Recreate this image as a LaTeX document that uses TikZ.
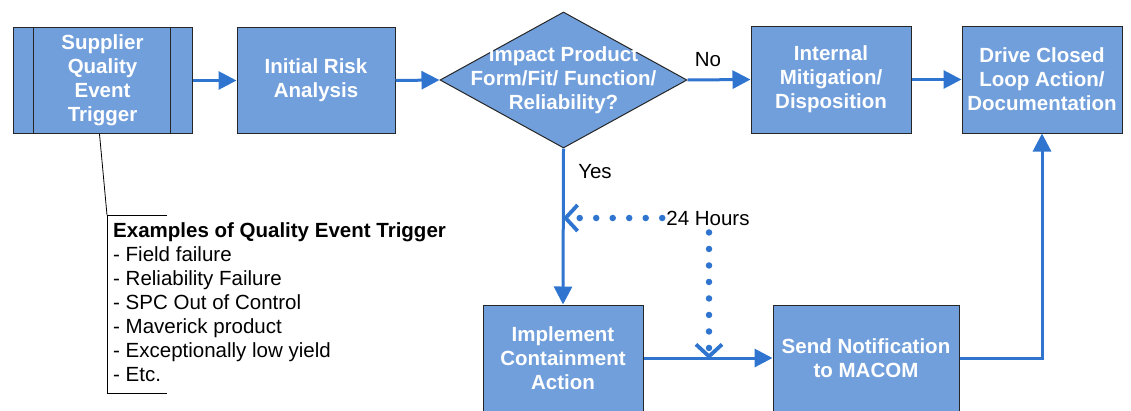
\documentclass[tikz,border=0pt]{standalone}
\usepackage{fontspec}
\setmainfont{Liberation Sans}
\usetikzlibrary{arrows.meta,shapes.geometric}
\definecolor{boxblue}{RGB}{113,159,220}
\definecolor{arrowblue}{RGB}{47,117,207}
\begin{document}
\begin{tikzpicture}[x=1pt,y=-1pt,
  boxfont/.style={font=\bfseries\fontsize{20.5}{24}\selectfont},
  stepbox/.style={draw=black!85, line width=1pt, fill=boxblue, text=white, boxfont, align=center, inner sep=0pt},
  boxtext/.style={text=white, boxfont, align=center, inner sep=0pt},
  flow/.style={draw=arrowblue, line width=3pt, -{Triangle[length=18pt,width=18pt]}},
  dotflow/.style={draw=arrowblue, line width=6.5pt, line cap=round, dash pattern=on 0pt off 16.5pt,
     -{Straight Barb[length=12pt,width=26pt,line width=3.8pt]}},
  lbl/.style={font=\fontsize{20.5}{24}\selectfont, inner sep=4pt},
  notefont/.style={font=\fontsize{20.5}{24}\selectfont, align=left, inner sep=0pt}
]
\useasboundingbox (0,0) rectangle (1131,410);

% boxes
\node[stepbox, minimum width=179, minimum height=106] (sup) at (102.5,80.5) {Supplier\\Quality\\Event\\Trigger};
\draw[draw=black!85, line width=1pt] ([xshift=21]sup.north west) -- ([xshift=21]sup.south west);
\draw[draw=black!85, line width=1pt] ([xshift=-22]sup.north east) -- ([xshift=-22]sup.south east);

\node[stepbox, minimum width=158, minimum height=106] (init) at (316,80.5) {Initial Risk\\Analysis};
\node[diamond, draw=black!85, line width=1pt, fill=boxblue, minimum width=247, minimum height=136, inner sep=0pt] (dec) at (563.5,80) {};
\node[boxtext] (dect) at (dec.center) {Impact Product\\Form/Fit/ Function/\\Reliability?};
\node[stepbox, minimum width=160, minimum height=107] (intm) at (831,79.5) {Internal\\Mitigation/\\Disposition};
\node[stepbox, minimum width=160, minimum height=107] (drive) at (1042,79.5) {Drive Closed\\Loop Action/\\Documentation};
\node[stepbox, minimum width=160, minimum height=106] (impl) at (563,358) {Implement\\Containment\\Action};
\node[stepbox, minimum width=186, minimum height=106] (send) at (866,358) {Send Notification\\to MACOM};

% main flow
\draw[flow] (sup.east) -- (init.west);
\draw[flow] (init.east) -- (dec.west);
\draw[flow] (dec.east) -- (intm.west);
\draw[flow] (intm.east) -- (drive.west);
\draw[flow] (dec.south) -- (impl.north);
\draw[flow] (impl.east) -- (send.west);
\draw[flow] (send.east) -| (drive.south);

\node[lbl] (no) at (708,60) {No};
\node[lbl] (yes) at (595,172) {Yes};

% 24 hours dotted connectors
\node[lbl] (h24) at (708,218) {24 Hours};
\coordinate (yesmid) at (563,218);
\coordinate (sendmid) at (709,359);
\draw[dotflow] (h24.west) -- (yesmid);
\draw[dotflow] ([xshift=1]h24.south) ++(0,3) -- (sendmid);

% note
\coordinate (brtop) at (107,215);
\coordinate (brbot) at (107,393);
\draw[line width=0.8pt] (sup.south) ++(-3,0) -- (brtop);
\draw[line width=0.8pt] ([xshift=60]brtop) -- (brtop) -- (brbot) -- ([xshift=60]brbot);
\node[notefont, anchor=north west] (note) at (113,222) {\textbf{Examples of Quality Event Trigger}\\- Field failure\\- Reliability Failure\\- SPC Out of Control\\- Maverick product\\- Exceptionally low yield\\- Etc.};
\end{tikzpicture}
\end{document}
